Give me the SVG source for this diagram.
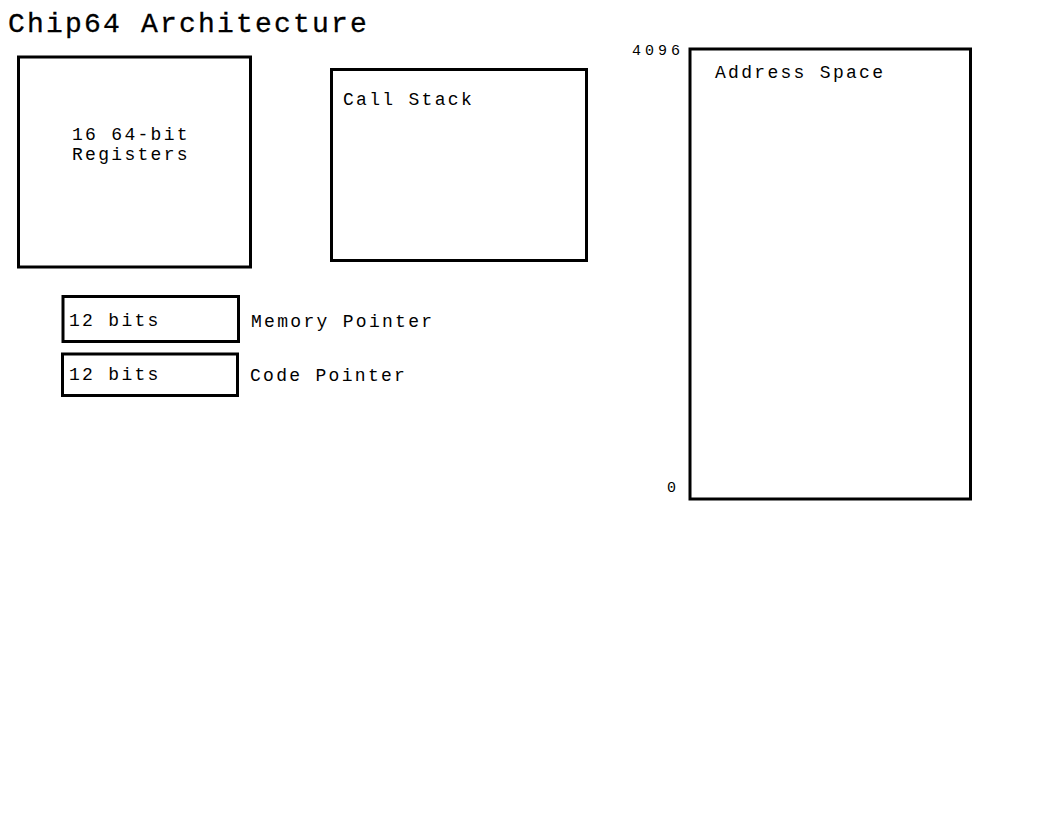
<svg xmlns="http://www.w3.org/2000/svg" width="1053" height="817" viewBox="0 0 1053 817">
<style>
.box{fill:#fff;stroke:#000;stroke-width:3}
.t{font-family:"Liberation Mono","DejaVu Sans Mono",monospace;font-size:18px;letter-spacing:2.3px;fill:#000}
.title{font-family:"Liberation Mono","DejaVu Sans Mono",monospace;font-size:28px;letter-spacing:2.2px;fill:#000;stroke:#000;stroke-width:0.3}
.s{font-family:"Liberation Mono","DejaVu Sans Mono",monospace;font-size:15px;letter-spacing:4px;fill:#000}
</style>
<rect width="1053" height="817" fill="#fff"/>
<text class="title" x="8" y="32">Chip64 Architecture</text>
<g id="registers">
<rect class="box" x="18.5" y="57" width="232" height="210"/>
<text class="t" x="72" y="140">16 64-bit</text>
<text class="t" x="72" y="160">Registers</text>
</g>
<g id="callstack">
<rect class="box" x="331.5" y="69.5" width="255" height="191"/>
<text class="t" x="343" y="105">Call Stack</text>
</g>
<g id="memptr">
<rect class="box" x="63" y="296.5" width="175.5" height="45"/>
<text class="t" x="69" y="326">12 bits</text>
<text class="t" x="251" y="327">Memory Pointer</text>
</g>
<g id="codeptr">
<rect class="box" x="62.5" y="354" width="175" height="41.5"/>
<text class="t" x="69" y="380">12 bits</text>
<text class="t" x="250" y="381">Code Pointer</text>
</g>
<g id="addrspace">
<rect class="box" x="690" y="49" width="280.5" height="450"/>
<text class="t" x="715" y="78">Address Space</text>
<text class="s" x="632" y="55">4096</text>
<text class="s" x="667" y="492">0</text>
</g>
<g id="connectors"/>
</svg>
